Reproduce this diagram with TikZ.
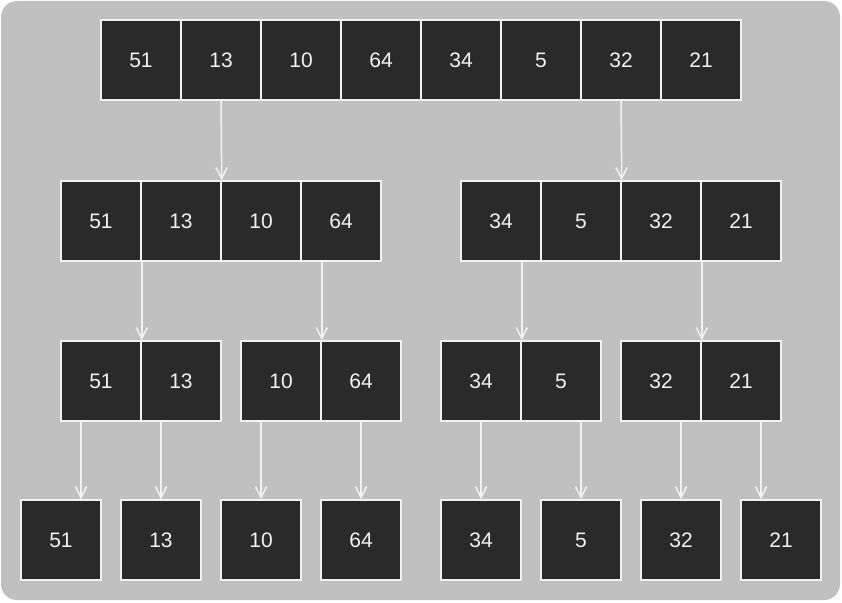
\documentclass[tikz,border=0pt]{standalone}
\usepackage{fontspec}
\setmainfont{Liberation Sans}
\usetikzlibrary{arrows.meta}
\definecolor{bggray}{HTML}{C0C0C0}
\definecolor{cellfill}{HTML}{2A2A2A}
\definecolor{edge}{HTML}{F2F2F2}
\tikzset{
  cell/.style={draw=edge, line width=1.5pt, fill=cellfill, minimum size=80pt, inner sep=0pt,
    text=edge, font=\fontsize{21}{25}\selectfont},
  arr/.style={draw=edge, line width=1.5pt, -{Straight Barb[length=11pt,width=11pt,line width=1.5pt]}}
}
\begin{document}
\begin{tikzpicture}[x=1pt,y=-1pt]
\useasboundingbox (0,0) rectangle (842,602);
\fill[bggray, rounded corners=16pt] (1,1) rectangle (840,600);
% row 1
\foreach \v [count=\i] in {51,13,10,64,34,5,32,21}{
  \node[cell] (t\i) at ({141+80*(\i-1)},60) {\v};
}
% row 2
\node[cell] (a1) at (101,221) {51};
\node[cell] (a2) at (181,221) {13};
\node[cell] (a3) at (261,221) {10};
\node[cell] (a4) at (341,221) {64};
\node[cell] (a5) at (501,221) {34};
\node[cell] (a6) at (581,221) {5};
\node[cell] (a7) at (661,221) {32};
\node[cell] (a8) at (741,221) {21};
% row 3
\node[cell] (b1) at (101,381) {51};
\node[cell] (b2) at (181,381) {13};
\node[cell] (b3) at (281,381) {10};
\node[cell] (b4) at (361,381) {64};
\node[cell] (b5) at (481,381) {34};
\node[cell] (b6) at (561,381) {5};
\node[cell] (b7) at (661,381) {32};
\node[cell] (b8) at (741,381) {21};
% row 4
\node[cell] (c1) at (61,540) {51};
\node[cell] (c2) at (161,540) {13};
\node[cell] (c3) at (261,540) {10};
\node[cell] (c4) at (361,540) {64};
\node[cell] (c5) at (481,540) {34};
\node[cell] (c6) at (581,540) {5};
\node[cell] (c7) at (681,540) {32};
\node[cell] (c8) at (781,540) {21};
% arrows row1 -> row2
\draw[arr] (t2.south) -- (a2.north east);
\draw[arr] (t7.south) -- (a6.north east);
% row2 -> row3
\draw[arr] (a1.south east) -- (b1.north east);
\draw[arr] (b3.north east |- a4.south) -- (b3.north east);
\draw[arr] (b5.north east |- a5.south) -- (b5.north east);
\draw[arr] (a7.south east) -- (b7.north east);
% row3 -> row4
\draw[arr] ([xshift=20pt]c1.north |- b1.south) -- ([xshift=20pt]c1.north);
\draw[arr] (c2.north |- b2.south) -- (c2.north);
\draw[arr] (c3.north |- b3.south) -- (c3.north);
\draw[arr] (c4.north |- b4.south) -- (c4.north);
\draw[arr] (c5.north |- b5.south) -- (c5.north);
\draw[arr] (c6.north |- b6.south) -- (c6.north);
\draw[arr] (c7.north |- b7.south) -- (c7.north);
\draw[arr] ([xshift=-20pt]c8.north |- b8.south) -- ([xshift=-20pt]c8.north);
\end{tikzpicture}
\end{document}
